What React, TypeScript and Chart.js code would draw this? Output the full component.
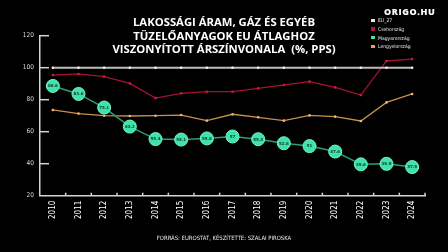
import React, { useEffect, useRef } from "react";
import { Chart, registerables } from "chart.js";

Chart.register(...registerables);

const years = ["2010","2011","2012","2013","2014","2015","2016","2017","2018","2019","2020","2021","2022","2023","2024"];
const eu27 = [100,100,100,100,100,100,100,100,100,100,100,100,100,100,100];
const czech = [95.4,96.1,94.4,90.2,81.0,84.0,85.0,85.0,87.1,89.2,91.3,87.7,82.9,104.2,105.4];
const hungary = [88.6,83.6,75.1,63.2,55.4,55.1,55.8,57,55.3,52.8,51,47.6,39.6,39.9,37.9];
const poland = [73.6,71.3,70.0,69.8,70.0,70.4,66.9,70.9,69.0,66.9,70.2,69.4,66.7,78.3,83.6];
const yTicks = [20,40,60,80,100,120];
const seriesNames = ["EU_27","Csehország","Magyarország","Lengyelország"];
const seriesColors = ["#e6e6e6","#b3123a","#3fe2ac","#e0a050"];
const titleLines = ["LAKOSSÁGI ÁRAM, GÁZ ÉS EGYÉB","TÜZELŐANYAGOK EU ÁTLAGHOZ","VISZONYÍTOTT ÁRSZÍNVONALA  (%, PPS)"];
const sourceText = "FORRÁS: EUROSTAT, KÉSZÍTETTE: SZALAI PIROSKA";
const logoText = "ORIGO.HU";

const axisColor = "#d4d4d4";

const customPlugin = {
  id: "custom",
  afterDatasetsDraw(chart: any) {
    const ctx = chart.ctx;
    const x = chart.scales.x;
    const y = chart.scales.y;
    ctx.save();
    ctx.strokeStyle = axisColor;
    ctx.lineWidth = 1.5;
    y.ticks.forEach((t: any) => {
      if (t.value === 20) return;
      const py = y.getPixelForValue(t.value);
      ctx.beginPath();
      ctx.moveTo(x.left, py);
      ctx.lineTo(x.left + 9, py);
      ctx.stroke();
    });
    const n = years.length;
    const w = (x.right - x.left) / n;
    for (let i = 1; i <= n; i++) {
      const px = x.left + i * w;
      ctx.beginPath();
      ctx.moveTo(px, y.bottom);
      ctx.lineTo(px, y.bottom - 3);
      ctx.stroke();
    }
    const meta = chart.getDatasetMeta(2);
    ctx.fillStyle = "#0b3d2c";
    ctx.font = "bold 4px 'DejaVu Sans'";
    ctx.textAlign = "center";
    ctx.textBaseline = "middle";
    meta.data.forEach((pt: any, i: number) => {
      ctx.fillText(String(hungary[i]), pt.x, pt.y + 0.3);
    });
    ctx.restore();
  },
};

export default function App() {
  const ref = useRef<HTMLCanvasElement>(null);
  useEffect(() => {
    document.body.style.margin = "0";
    document.body.style.background = "#000";
    const chart = new Chart(ref.current!, {
      type: "line",
      data: {
        labels: years,
        datasets: [
          { label: seriesNames[0], data: eu27, borderColor: "#bdbdbd", backgroundColor: "#e0e0e0", borderWidth: 2, pointRadius: 1.3, pointBorderWidth: 0, pointBackgroundColor: "#f0f0f0" },
          { label: seriesNames[1], data: czech, borderColor: "#a5122f", backgroundColor: "#c8163f", borderWidth: 1.3, pointRadius: 1.3, pointBorderWidth: 0, pointBackgroundColor: "#d01a45" },
          { label: seriesNames[2], data: hungary, borderColor: "#2a9c7a", backgroundColor: "#3fe2ac", borderWidth: 1.5, pointRadius: 6.5, pointBorderWidth: 1, pointBorderColor: "#74f2c6", pointBackgroundColor: "#3fe2ac" },
          { label: seriesNames[3], data: poland, borderColor: "#c8904a", backgroundColor: "#e0a050", borderWidth: 1.3, pointRadius: 1.3, pointBorderWidth: 0, pointBackgroundColor: "#f0b868" },
        ],
      },
      options: {
        animation: false,
        responsive: false,
        events: [],
        layout: { padding: { left: 8, right: 23, top: 35.7, bottom: 0 } },
        plugins: { legend: { display: false }, tooltip: { enabled: false }, title: { display: false } },
        scales: {
          x: {
            offset: true,
            grid: { display: false, drawTicks: false },
            border: { display: true, color: axisColor, width: 1.5 },
            ticks: { color: "#ffffff", font: { family: "'Liberation Sans Narrow','DejaVu Sans Condensed',Roboto", size: 8 }, minRotation: 90, maxRotation: 90, padding: 5 },
            afterFit: (s: any) => { s.height = 56.3; },
          },
          y: {
            min: 20,
            max: 120,
            afterBuildTicks: (s: any) => { s.ticks = yTicks.map((v) => ({ value: v })); },
            grid: { display: false, drawTicks: false },
            border: { display: true, color: axisColor, width: 1.5 },
            ticks: { color: "#d8d8d8", font: { family: "'Liberation Sans Narrow','DejaVu Sans Condensed',Roboto", size: 6.5 }, padding: 6 },
            afterFit: (s: any) => { s.width = 32; },
          },
        },
      },
      plugins: [customPlugin],
    });
    return () => chart.destroy();
  }, []);

  const narrow = "'Liberation Sans Narrow','DejaVu Sans Condensed',Roboto,sans-serif";
  return (
    <div style={{ position: "relative", width: 448, height: 252, background: "#000", overflow: "hidden" }}>
      <canvas ref={ref} width={448} height={252} style={{ position: "absolute", left: 0, top: 0, width: 448, height: 252 }} />
      <div style={{ position: "absolute", left: 0, width: 448, top: 15, textAlign: "center", color: "#fff", fontFamily: "'Open Sans',sans-serif", fontWeight: 700, fontSize: 11.3, lineHeight: "13.6px", paddingRight: 2, whiteSpace: "pre" }}>
        {titleLines.map((l, i) => <div key={i}>{l}</div>)}
      </div>
      <div style={{ position: "absolute", left: 384, top: 5, color: "#fff", fontFamily: "'Open Sans',sans-serif", fontWeight: 800, fontSize: 9, letterSpacing: 0.6 }}>{logoText}</div>
      <div style={{ position: "absolute", left: 371, top: 16, fontFamily: narrow, fontSize: 5, color: "#e8e8e8" }}>
        {seriesNames.map((n, i) => (
          <div key={i} style={{ display: "flex", alignItems: "center", height: 8.7 }}>
            <span style={{ display: "inline-block", width: 3.5, height: 3.5, background: seriesColors[i], marginRight: 3.5 }} />
            <span>{n}</span>
          </div>
        ))}
      </div>
      <div style={{ position: "absolute", left: 0, width: 448, top: 234.5, textAlign: "center", fontFamily: narrow, fontSize: 5.9, color: "#e8e8e8" }}>{sourceText}</div>
    </div>
  );
}
